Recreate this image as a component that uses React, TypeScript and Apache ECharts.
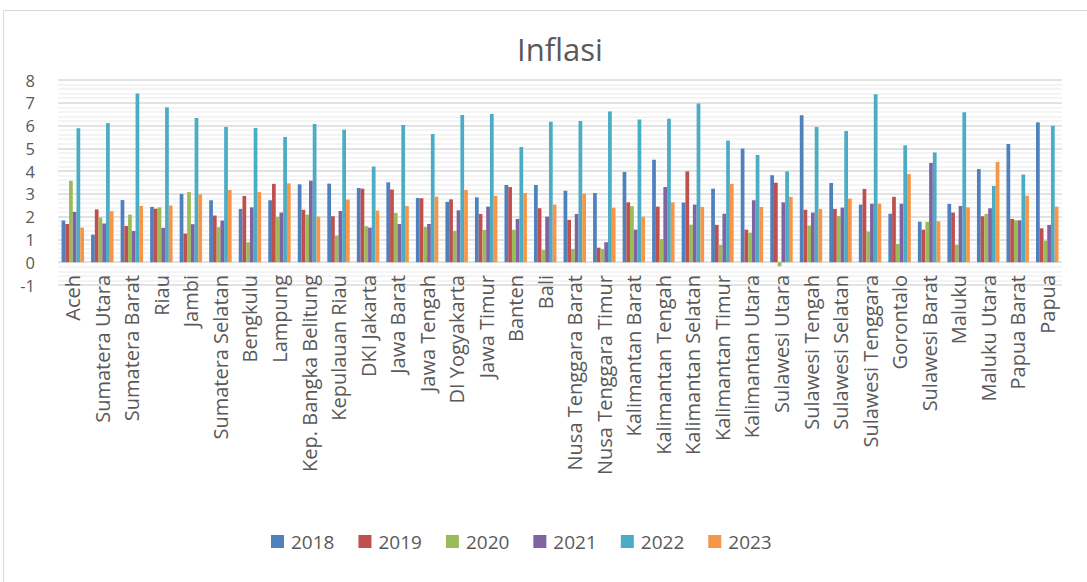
import React, { useEffect, useRef } from "react";
import * as echarts from "echarts";

const provinces = [
  "Aceh", "Sumatera Utara", "Sumatera Barat", "Riau", "Jambi", "Sumatera Selatan",
  "Bengkulu", "Lampung", "Kep. Bangka Belitung", "Kepulauan Riau", "DKI Jakarta",
  "Jawa Barat", "Jawa Tengah", "DI Yogyakarta", "Jawa Timur", "Banten", "Bali",
  "Nusa Tenggara Barat", "Nusa Tenggara Timur", "Kalimantan Barat", "Kalimantan Tengah",
  "Kalimantan Selatan", "Kalimantan Timur", "Kalimantan Utara", "Sulawesi Utara",
  "Sulawesi Tengah", "Sulawesi Selatan", "Sulawesi Tenggara", "Gorontalo",
  "Sulawesi Barat", "Maluku", "Maluku Utara", "Papua Barat", "Papua",
];

const years = ["2018", "2019", "2020", "2021", "2022", "2023"];

const v2018 = [1.83, 1.21, 2.73, 2.43, 3.0, 2.72, 2.34, 2.72, 3.42, 3.45, 3.26, 3.51, 2.82, 2.65, 2.85, 3.39, 3.39, 3.14, 3.04, 3.96, 4.5, 2.62, 3.23, 4.99, 3.82, 6.45, 3.48, 2.53, 2.13, 1.78, 2.56, 4.09, 5.19, 6.14];
const v2019 = [1.68, 2.32, 1.59, 2.35, 1.26, 2.05, 2.91, 3.44, 2.3, 2.02, 3.23, 3.19, 2.81, 2.76, 2.12, 3.3, 2.37, 1.86, 0.64, 2.63, 2.44, 3.99, 1.64, 1.43, 3.49, 2.3, 2.34, 3.22, 2.87, 1.43, 2.18, 2.02, 1.9, 1.49];
const v2020 = [3.57, 1.96, 2.09, 2.41, 3.08, 1.54, 0.88, 1.99, 2.09, 1.17, 1.58, 2.16, 1.55, 1.37, 1.42, 1.43, 0.54, 0.58, 0.58, 2.46, 1.02, 1.65, 0.76, 1.3, -0.18, 1.61, 2.03, 1.35, 0.8, 1.77, 0.77, 2.12, 1.84, 0.94];
const v2021 = [2.21, 1.7, 1.37, 1.51, 1.67, 1.83, 2.41, 2.18, 3.58, 2.25, 1.52, 1.68, 1.68, 2.28, 2.44, 1.9, 2.0, 2.12, 0.88, 1.43, 3.3, 2.53, 2.13, 2.72, 2.63, 2.18, 2.4, 2.57, 2.57, 4.36, 2.47, 2.37, 1.84, 1.64];
const v2022 = [5.88, 6.11, 7.41, 6.8, 6.33, 5.94, 5.89, 5.5, 6.07, 5.82, 4.2, 6.02, 5.63, 6.46, 6.51, 5.06, 6.17, 6.2, 6.62, 6.27, 6.3, 6.97, 5.34, 4.71, 3.99, 5.94, 5.76, 7.37, 5.13, 4.82, 6.58, 3.35, 3.85, 5.99];
const v2023 = [1.52, 2.24, 2.47, 2.49, 2.98, 3.17, 3.08, 3.46, 2.0, 2.75, 2.27, 2.47, 2.88, 3.17, 2.91, 3.04, 2.53, 3.01, 2.4, 2.0, 2.63, 2.43, 3.44, 2.43, 2.87, 2.34, 2.79, 2.57, 3.87, 1.8, 2.41, 4.4, 2.92, 2.44];

const seriesValues = [v2018, v2019, v2020, v2021, v2022, v2023];
const colors = ["#4F81BD", "#C0504D", "#9BBB59", "#8064A2", "#4BACC6", "#F79646"];

const FONT = "'Open Sans', 'Liberation Sans', sans-serif";

export default function App() {
  const ref = useRef<HTMLDivElement>(null);

  useEffect(() => {
    if (!ref.current) return;
    const chart = echarts.init(ref.current, undefined, { renderer: "svg" });
    chart.setOption({
      animation: false,
      backgroundColor: "#ffffff",
      color: colors,
      title: {
        text: "Inflasi",
        left: 512,
        top: 28,
        textStyle: { fontFamily: FONT, fontSize: 31, fontWeight: "normal", color: "#595959" },
      },
      legend: {
        data: years,
        left: 266,
        top: 527,
        itemWidth: 13,
        itemHeight: 13,
        itemGap: 24,
        icon: "rect",
        textStyle: { fontFamily: FONT, fontSize: 19, color: "#595959", padding: [0, 0, 0, 2] },
      },
      grid: { left: 58, right: 25, top: 80, bottom: 297, containLabel: false },
      xAxis: {
        type: "category",
        data: provinces,
        axisLine: { show: false, onZero: false },
        axisTick: { show: false },
        axisLabel: {
          rotate: 90,
          interval: 0,
          margin: -10,
          fontFamily: FONT,
          fontSize: 20,
          color: "#595959",
        },
      },
      yAxis: {
        type: "value",
        min: -1,
        max: 8,
        interval: 1,
        axisLine: { show: false },
        axisTick: { show: false },
        axisLabel: { fontFamily: FONT, fontSize: 16.5, color: "#595959", margin: 23 },
        splitLine: { show: true, lineStyle: { color: "#d9d9d9", width: 1.5 } },
        minorTick: { show: false, splitNumber: 5 },
        minorSplitLine: { show: true, lineStyle: { color: "#f0f0f0", width: 1.5 } },
      },
      series: years.map((y, i) => ({
        name: y,
        type: "bar",
        data: seriesValues[i],
        barGap: "0%",
        barCategoryGap: "24%",
        itemStyle: { color: colors[i] },
      })),
      graphic: [
        {
          type: "rect",
          shape: { x: 3.5, y: 10.5, width: 1200, height: 700 },
          style: { fill: "none", stroke: "#d9d9d9", lineWidth: 1 },
          silent: true,
        },
      ],
    });
    return () => chart.dispose();
  }, []);

  return (
    <div
      ref={ref}
      style={{ position: "fixed", left: 0, top: 0, width: 1087, height: 582 }}
    />
  );
}
